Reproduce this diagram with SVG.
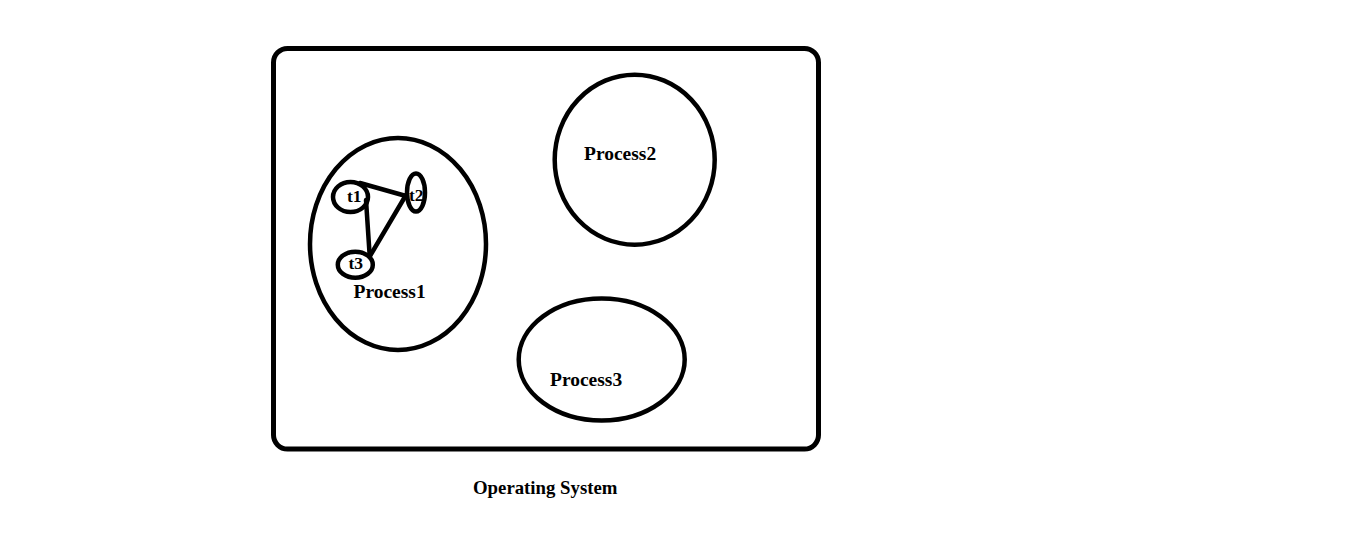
<svg xmlns="http://www.w3.org/2000/svg" width="1359" height="551" viewBox="0 0 1359 551">
<style>
.sh{fill:none;stroke:#000;stroke-width:4.5}
.ln{stroke:#000;stroke-width:4.5;stroke-linecap:round;fill:none}
.lb{font-family:"Liberation Serif","Times New Roman",serif;font-weight:bold;font-size:19.5px;fill:#000}
.tl{font-family:"Liberation Serif","Times New Roman",serif;font-weight:bold;font-size:17.5px;fill:#000}
</style>
<rect width="1359" height="551" fill="#fff"/>
<g id="os">
<rect class="sh" x="273.5" y="48.5" width="545" height="400.5" rx="14" ry="14" style="stroke-width:5"/>
<text class="lb" x="473" y="494" style="font-size:18.8px">Operating System</text>
</g>
<g id="process1">
<ellipse class="sh" cx="398" cy="244" rx="88" ry="106"/>
<text class="lb" x="353.5" y="298">Process1</text>
</g>
<g id="process2">
<ellipse class="sh" cx="634.7" cy="159.7" rx="80" ry="85"/>
<text class="lb" x="584" y="160">Process2</text>
</g>
<g id="process3">
<ellipse class="sh" cx="601.7" cy="359.5" rx="83" ry="61"/>
<text class="lb" x="550" y="386">Process3</text>
</g>
<g id="connectors">
<line class="ln" x1="360" y1="183" x2="406" y2="196"/>
<line class="ln" x1="366" y1="200" x2="369.5" y2="253"/>
<line class="ln" x1="406" y1="195" x2="370" y2="256"/>
</g>
<g id="t1">
<ellipse class="sh" cx="350.5" cy="197" rx="17.5" ry="15"/>
<text class="tl" x="347" y="202">t1</text>
</g>
<g id="t2">
<ellipse class="sh" cx="416" cy="192.5" rx="9" ry="19"/>
<text class="tl" x="409" y="201">t2</text>
</g>
<g id="t3">
<ellipse class="sh" cx="355.3" cy="264.7" rx="17.5" ry="13"/>
<text class="tl" x="348.5" y="268.5">t3</text>
</g>
</svg>
